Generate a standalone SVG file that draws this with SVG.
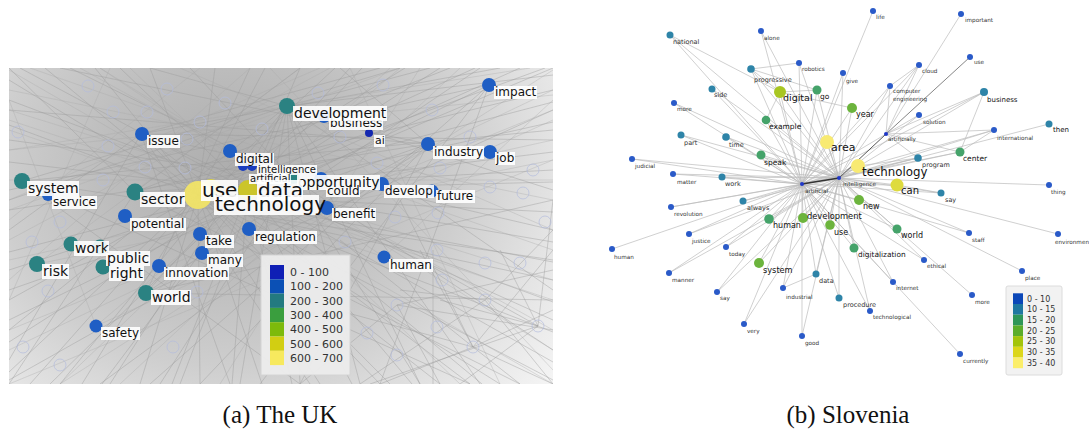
<svg xmlns="http://www.w3.org/2000/svg" width="1089" height="431" viewBox="0 0 1089 431">
<style>
.lbl{font-family:"DejaVu Sans","Liberation Sans",sans-serif;fill:#111}
.bg{fill:#fff;fill-opacity:0.9}
.web{fill:none;stroke:#999;stroke-width:0.6;stroke-opacity:0.7}
.web2{fill:none;stroke:#a8a8a8;stroke-width:0.5;stroke-opacity:0.7}
.hol{fill:none;stroke:#b3bbdd;stroke-width:0.7}
.nb{fill:#1f5ec4}
.nt{fill:#2b8282}
.e{fill:none;stroke:#bcbcbc;stroke-width:0.7}
.rb{fill:#2a5ac8}
.rt{fill:#2e84a8}
.rg{fill:#45a36a}
.rg2{fill:#6cb43d}
.s{font-family:"DejaVu Sans","Liberation Sans",sans-serif;fill:#333;font-size:5.7px}
.st{font-family:"DejaVu Sans","Liberation Sans",sans-serif;fill:#333;font-size:6.5px}
.leg{font-family:"DejaVu Sans","Liberation Sans",sans-serif;fill:#333}
.cap{font-family:"Liberation Serif","Times New Roman",serif;font-size:25px;fill:#111}
</style>
<defs>
<clipPath id="ukclip"><rect x="9" y="68" width="544" height="316"/></clipPath>
<radialGradient id="ukg" gradientUnits="userSpaceOnUse" cx="230" cy="170" r="420" gradientTransform="translate(230 170) scale(1 0.85) translate(-230 -170)">
<stop offset="0" stop-color="#adadad"/>
<stop offset="0.3" stop-color="#bdbdbd"/>
<stop offset="0.55" stop-color="#cecece"/>
<stop offset="0.8" stop-color="#e6e6e6"/>
<stop offset="1" stop-color="#f7f7f7"/>
</radialGradient>
</defs>
<rect width="1089" height="431" fill="#fff"/>

<!-- ===== Panel (a) The UK ===== -->
<g id="uk-panel">
<rect x="9" y="68" width="544" height="316" fill="url(#ukg)"/>
<g id="uk-edges" clip-path="url(#ukclip)">
<path class="web" d="M198 195L9 80M198 195L9 125M198 195L9 300M198 195L9 372M198 195L45 68M198 195L95 68M198 195L150 68M198 195L215 68M198 195L265 68M198 195L335 68M198 195L405 68M198 195L475 68M198 195L545 68M198 195L553 102M198 195L553 152M198 195L553 212M198 195L553 262M198 195L553 332M198 195L553 380M198 195L500 384M198 195L440 384M198 195L380 384M198 195L320 384M198 195L262 384M198 195L200 384M198 195L140 384M198 195L82 384M198 195L30 384"/>
<path class="web" d="M248 190L20 68M248 190L120 68M248 190L300 68M248 190L362 68M248 190L440 68M248 190L520 68M248 190L553 122M248 190L553 182M248 190L553 242M248 190L553 302M248 190L553 362M248 190L482 384M248 190L412 384M248 190L352 384M248 190L292 384M248 190L232 384M248 190L172 384M248 190L102 384M248 190L50 384M248 190L9 342M248 190L9 252M248 190L9 162M248 190L9 100"/>
<path class="web" d="M287 106L9 200M287 106L9 330M287 106L60 384M287 106L180 384M287 106L300 384M287 106L420 384M287 106L553 290M287 106L553 190M287 106L553 75M287 106L150 68M287 106L430 68M287 106L110 384M287 106L240 384M287 106L360 384M287 106L480 384"/>
<path class="web" d="M141 134L553 140M141 134L553 230M141 134L553 320M141 134L470 384M141 134L390 384M141 134L310 384M141 134L230 384M141 134L9 230M141 134L9 360M141 134L380 68M141 134L500 68"/>
<path class="web" d="M135 192L553 90M135 192L553 170M135 192L553 280M135 192L520 384M135 192L9 68M135 192L300 68M135 192L450 68M135 192L9 384"/>
<path class="web" d="M428 144L9 110M428 144L9 210M428 144L9 290M428 144L9 380M428 144L100 384M428 144L60 68M428 144L200 384M428 144L300 384M428 144L340 68"/>
<path class="web" d="M292 178L9 140M292 178L9 270M292 178L70 68M292 178L190 68M292 178L553 68M292 178L553 350M292 178L420 384M292 178L160 384"/>
<path class="web" d="M146 293L553 110M146 293L553 200M146 293L480 68M146 293L350 68M146 293L250 68M146 293L553 300M22 181L553 130M22 181L553 260M22 181L400 68M22 181L470 384M22 181L300 384M489 85L9 190M489 85L9 320M489 85L150 384M489 85L260 384M489 85L380 384"/>
<path class="web" d="M473 347L340 240M473 347L380 384M473 347L553 250M473 347L553 384M473 347L300 300M473 347L420 250M473 347L553 310M473 347L400 200M473 347L520 384M538 326L420 260M538 326L460 384M538 326L553 200M538 326L440 300M538 326L370 384M538 326L500 250M485 300L553 230M485 300L360 384M485 300L553 384M485 300L400 290M433 250L433 384M397 305L553 330M397 305L553 270M397 305L440 384M397 305L300 384"/>
<path class="web2" d="M9 90L553 200M9 150L553 95M9 210L400 68M9 260L553 140M30 68L553 250M80 68L553 330M130 68L460 384M9 180L553 180M9 330L553 110M9 240L330 68M60 384L553 70M9 120L553 300M180 68L553 230M250 68L9 280M320 68L9 200M390 68L60 384M460 68L120 384M530 68L9 150M553 160L9 384M553 280L9 110M553 350L100 68M553 90L9 350M420 68L220 384M350 68L500 384M270 68L553 370M9 70L553 384M200 68L9 220M110 68L9 300M96 326L553 120M96 326L400 68M96 326L9 100M37 264L553 160M37 264L300 68M384 257L9 130M384 257L100 68M384 257L553 100"/>
</g>
<g id="uk-hollow" clip-path="url(#ukclip)">
<circle class="hol" cx="88" cy="86" r="6"/><circle class="hol" cx="167" cy="89" r="6"/><circle class="hol" cx="113" cy="112" r="6"/><circle class="hol" cx="147" cy="112" r="6"/><circle class="hol" cx="200" cy="122" r="6"/><circle class="hol" cx="225" cy="103" r="6"/><circle class="hol" cx="262" cy="129" r="6"/><circle class="hol" cx="187" cy="139" r="6"/><circle class="hol" cx="108" cy="146" r="6"/><circle class="hol" cx="145" cy="167" r="6"/><circle class="hol" cx="185" cy="168" r="6"/><circle class="hol" cx="103" cy="180" r="6"/><circle class="hol" cx="18" cy="132" r="6"/><circle class="hol" cx="60" cy="222" r="6"/>
<circle class="hol" cx="383" cy="85" r="6"/><circle class="hol" cx="318" cy="93" r="6"/><circle class="hol" cx="432" cy="110" r="6"/><circle class="hol" cx="340" cy="137" r="6"/><circle class="hol" cx="470" cy="137" r="6"/><circle class="hol" cx="377" cy="163" r="6"/><circle class="hol" cx="440" cy="168" r="6"/><circle class="hol" cx="533" cy="170" r="6"/><circle class="hol" cx="490" cy="187" r="6"/><circle class="hol" cx="523" cy="193" r="6"/><circle class="hol" cx="438" cy="213" r="6"/><circle class="hol" cx="545" cy="222" r="6"/><circle class="hol" cx="395" cy="217" r="6"/>
<circle class="hol" cx="345" cy="242" r="6"/><circle class="hol" cx="437" cy="250" r="6"/><circle class="hol" cx="442" cy="280" r="6"/><circle class="hol" cx="485" cy="263" r="6"/><circle class="hol" cx="520" cy="263" r="6"/><circle class="hol" cx="397" cy="305" r="6"/><circle class="hol" cx="485" cy="300" r="6"/><circle class="hol" cx="367" cy="333" r="6"/><circle class="hol" cx="538" cy="326" r="6"/><circle class="hol" cx="473" cy="347" r="6"/><circle class="hol" cx="397" cy="355" r="6"/><circle class="hol" cx="437" cy="327" r="6"/>
<circle class="hol" cx="32" cy="242" r="6"/><circle class="hol" cx="48" cy="291" r="6"/><circle class="hol" cx="197" cy="292" r="6"/><circle class="hol" cx="173" cy="347" r="6"/><circle class="hol" cx="23" cy="347" r="6"/><circle class="hol" cx="60" cy="365" r="6"/>
</g>
<g id="uk-nodes">
<g id="uk-issue"><circle class="nb" cx="142" cy="134" r="7"/></g>
<g id="uk-digital"><circle class="nb" cx="230" cy="151" r="7"/></g>
<g id="uk-artificial"><circle fill="#1a3cbf" cx="243" cy="166" r="5"/></g>
<g id="uk-intelligence"><circle fill="#1a3cbf" cx="252" cy="166" r="5"/></g>
<g id="uk-service"><circle class="nb" cx="48" cy="195" r="6"/></g>
<g id="uk-potential"><circle class="nb" cx="125" cy="216" r="7"/></g>
<g id="uk-take"><circle class="nb" cx="200" cy="234" r="7"/></g>
<g id="uk-many"><circle class="nb" cx="202" cy="253" r="7"/></g>
<g id="uk-regulation"><circle class="nb" cx="249" cy="229" r="7"/></g>
<g id="uk-innovation"><circle class="nb" cx="159" cy="266" r="7"/></g>
<g id="uk-safety"><circle class="nb" cx="96" cy="326" r="6.5"/></g>
<g id="uk-human"><circle class="nb" cx="384" cy="257" r="6.5"/></g>
<g id="uk-benefit"><circle class="nb" cx="327" cy="208" r="7"/></g>
<g id="uk-develop"><circle class="nb" cx="382" cy="184" r="7"/></g>
<g id="uk-future"><circle class="nb" cx="432" cy="191" r="6.5"/></g>
<g id="uk-industry"><circle class="nb" cx="428" cy="144" r="7"/></g>
<g id="uk-job"><circle class="nb" cx="490" cy="152" r="7"/></g>
<g id="uk-impact"><circle class="nb" cx="489" cy="85" r="7"/></g>
<g id="uk-could"><circle class="nb" cx="321" cy="179" r="7"/></g>
<g id="uk-business"><circle class="nb" cx="324" cy="117" r="6"/></g>
<g id="uk-ai"><circle fill="#1428b0" cx="369" cy="133" r="4"/></g>
<g id="uk-opportunity"><circle class="nt" cx="293" cy="178" r="6"/></g>
<g id="uk-development"><circle class="nt" cx="287" cy="106" r="8"/></g>
<g id="uk-system"><circle class="nt" cx="22" cy="181" r="8"/></g>
<g id="uk-sector"><circle class="nt" cx="135" cy="192" r="8.5"/></g>
<g id="uk-work"><circle class="nt" cx="71" cy="244" r="7.5"/></g>
<g id="uk-public"><circle class="nt" cx="100" cy="247" r="7.5"/></g>
<g id="uk-right"><circle class="nt" cx="103" cy="267" r="7.5"/></g>
<g id="uk-risk"><circle class="nt" cx="37" cy="264" r="8"/></g>
<g id="uk-world"><circle class="nt" cx="146" cy="293" r="8"/></g>
<g id="uk-technology"><circle fill="#dcd242" cx="211" cy="189" r="10"/></g>
<g id="uk-use"><circle fill="#f3e565" fill-opacity="0.92" cx="198" cy="195" r="14"/></g>
<g id="uk-data"><circle fill="#cbc52a" cx="248" cy="190" r="10"/></g>
</g>
<g id="uk-labels">
<rect class="bg" x="147" y="135" width="33" height="13"/><text class="lbl" x="148" y="145" font-size="12">issue</text>
<rect class="bg" x="235" y="153" width="39" height="13"/><text class="lbl" x="236" y="163" font-size="12">digital</text>
<rect class="bg" x="52" y="196" width="45" height="13"/><text class="lbl" x="53" y="206" font-size="12">service</text>
<rect class="bg" x="130" y="218" width="56" height="13"/><text class="lbl" x="131" y="228" font-size="12">potential</text>
<rect class="bg" x="205" y="235" width="29" height="13"/><text class="lbl" x="206" y="245" font-size="12">take</text>
<rect class="bg" x="207" y="254" width="36" height="13"/><text class="lbl" x="208" y="264" font-size="12">many</text>
<rect class="bg" x="254" y="231" width="63" height="13"/><text class="lbl" x="255" y="241" font-size="12">regulation</text>
<rect class="bg" x="164" y="267" width="65" height="13"/><text class="lbl" x="165" y="277" font-size="12">innovation</text>
<rect class="bg" x="101" y="327" width="39" height="13"/><text class="lbl" x="102" y="337" font-size="12">safety</text>
<rect class="bg" x="389" y="259" width="44" height="13"/><text class="lbl" x="390" y="269" font-size="12">human</text>
<rect class="bg" x="332" y="208" width="44" height="13"/><text class="lbl" x="333" y="218" font-size="12">benefit</text>
<rect class="bg" x="384" y="185" width="50" height="13"/><text class="lbl" x="385" y="195" font-size="12">develop</text>
<rect class="bg" x="436" y="190" width="39" height="13"/><text class="lbl" x="437" y="200" font-size="12">future</text>
<rect class="bg" x="433" y="146" width="51" height="13"/><text class="lbl" x="434" y="156" font-size="12">industry</text>
<rect class="bg" x="495" y="152" width="20" height="13"/><text class="lbl" x="496" y="162" font-size="12">job</text>
<rect class="bg" x="494" y="86" width="43" height="13"/><text class="lbl" x="495" y="96" font-size="12">impact</text>
<rect class="bg" x="329" y="117" width="54" height="13"/><text class="lbl" x="330" y="127" font-size="12">business</text>
<rect class="bg" x="374" y="135" width="11" height="12"/><text class="lbl" x="375" y="144" font-size="11">ai</text>
<rect class="bg" x="257" y="165" width="60" height="10"/><text class="lbl" x="258" y="173" font-size="10">intelligence</text>
<rect class="bg" x="249" y="174" width="42" height="10"/><text class="lbl" x="250" y="182" font-size="10">artificial</text>
<rect class="bg" x="297" y="175" width="83" height="15"/><text class="lbl" x="298" y="187" font-size="14">opportunity</text>
<rect class="bg" x="326" y="189" width="34" height="8"/><text class="lbl" x="327" y="195" font-size="12">could</text>
<rect class="bg" x="293" y="106" width="94" height="15"/><text class="lbl" x="294" y="118" font-size="14">development</text>
<rect class="bg" x="27" y="181" width="52" height="15"/><text class="lbl" x="28" y="193" font-size="14">system</text>
<rect class="bg" x="140" y="192" width="45" height="15"/><text class="lbl" x="141" y="204" font-size="14">sector</text>
<rect class="bg" x="74" y="241" width="35" height="15"/><text class="lbl" x="75" y="253" font-size="14">work</text>
<rect class="bg" x="106" y="251" width="44" height="15"/><text class="lbl" x="107" y="263" font-size="14">public</text>
<rect class="bg" x="109" y="266" width="35" height="15"/><text class="lbl" x="110" y="278" font-size="14">right</text>
<rect class="bg" x="42" y="264" width="27" height="15"/><text class="lbl" x="43" y="276" font-size="14">risk</text>
<rect class="bg" x="151" y="290" width="40" height="15"/><text class="lbl" x="152" y="302" font-size="14">world</text>
<rect class="bg" x="201" y="180" width="37" height="21"/><text class="lbl" x="202" y="197" font-size="20">use</text>
<rect class="bg" x="257" y="180" width="46" height="21"/><text class="lbl" x="258" y="197" font-size="20">data</text>
<rect class="bg" x="214" y="195" width="105" height="20"/><text class="lbl" x="215" y="211" font-size="20">technology</text>
</g>
<g id="uk-legend">
<rect x="261" y="255" width="89" height="120" fill="#ececec" fill-opacity="0.95" stroke="#d4d4d4" stroke-width="1"/>
<rect x="270" y="265" width="14" height="14.3" fill="#0f1fb5"/>
<rect x="270" y="279.3" width="14" height="14.3" fill="#0b50b5"/>
<rect x="270" y="293.6" width="14" height="14.3" fill="#237a80"/>
<rect x="270" y="307.9" width="14" height="14.3" fill="#3a9e3e"/>
<rect x="270" y="322.2" width="14" height="14.3" fill="#7dba0b"/>
<rect x="270" y="336.5" width="14" height="14.3" fill="#d2ce12"/>
<rect x="270" y="350.8" width="14" height="14.3" fill="#f7e95e"/>
<text class="leg" font-size="11" x="290" y="276">0 - 100</text>
<text class="leg" font-size="11" x="290" y="290.3">100 - 200</text>
<text class="leg" font-size="11" x="290" y="304.6">200 - 300</text>
<text class="leg" font-size="11" x="290" y="318.9">300 - 400</text>
<text class="leg" font-size="11" x="290" y="333.2">400 - 500</text>
<text class="leg" font-size="11" x="290" y="347.5">500 - 600</text>
<text class="leg" font-size="11" x="290" y="361.8">600 - 700</text>
</g>
</g>
<text class="cap" x="280" y="423" text-anchor="middle">(a) The UK</text>

<!-- ===== Panel (b) Slovenia ===== -->
<g id="si-edges">
<path class="e" d="M670 35L802 184M761 31L802 184M799 63L802 184M751 69L802 184M843 73L802 184M780 92L802 184M817 90L802 184M712 89L802 184M674 103L802 184M766 120L802 184M852 108L802 184M827 142L802 184M681 135L802 184M726 137L802 184M761 155L802 184M632 159L802 184M673 174L802 184M722 177L802 184M858 166L802 184M897 185L802 184M918 158L802 184M859 200L802 184M769 219L802 184M803 218L802 184M830 225L802 184M897 229L802 184M854 248L802 184M873 11L802 184M919 65L802 184M890 86L802 184M984 92L802 184M994 130L802 184M960 152L802 184M941 193L802 184M743 201L802 184M671 207L802 184M689 234L802 184M612 249L802 184M726 247L802 184M759 263L802 184M669 273L802 184M816 274L802 184M783 288L802 184M717 292L802 184M839 298L802 184M744 324L802 184M802 336L802 184M969 233L802 184M924 260L802 184M893 282L802 184M870 311L802 184M960 354L802 184"/>
<path class="e" d="M670 35L839 178M761 31L839 178M799 63L839 178M751 69L839 178M843 73L839 178M780 92L839 178M817 90L839 178M712 89L839 178M674 103L839 178M766 120L839 178M852 108L839 178M827 142L839 178M681 135L839 178M726 137L839 178M761 155L839 178M632 159L839 178M673 174L839 178M722 177L839 178M858 166L839 178M897 185L839 178M918 158L839 178M859 200L839 178M769 219L839 178M803 218L839 178M830 225L839 178M897 229L839 178M854 248L839 178M919 65L839 178M890 86L839 178M984 92L839 178M919 115L839 178M994 130L839 178M1049 124L839 178M960 152L839 178M1049 185L839 178M941 193L839 178M743 201L839 178M671 207L839 178M689 234L839 178M726 247L839 178M759 263L839 178M669 273L839 178M816 274L839 178M783 288L839 178M717 292L839 178M839 298L839 178M744 324L839 178M802 336L839 178M969 233L839 178M1058 234L839 178M924 260L839 178M1022 271L839 178M893 282L839 178M972 295L839 178M870 311L839 178"/>
<path class="e" d="M961 14L886 134M919 65L886 134M890 86L886 134M984 92L886 134M919 115L886 134M994 130L886 134M960 152L886 134M918 158L886 134M886 134L802 184"/>
<path class="e" d="M799 63L751 69M751 69L780 92M751 69L817 90M780 92L817 90M780 92L852 108M780 92L766 120M919 65L890 86M994 130L960 152M984 92L960 152M897 185L941 193M816 274L783 288M858 166L918 158M670 35L780 92"/>
<path d="M970 57L886 134" fill="none" stroke="#777" stroke-width="0.9"/>
<path d="M839 178L886 134" fill="none" stroke="#555" stroke-width="1"/>
<path d="M802 184L839 178" fill="none" stroke="#333" stroke-width="1.5"/>
</g>
<g id="si-nodes">
<g id="si-national"><circle class="rt" cx="670" cy="35" r="3.5"/><text class="st" x="673" y="44">national</text></g>
<g id="si-alone"><circle class="rb" cx="761" cy="31" r="3"/><text class="s" x="764" y="40">alone</text></g>
<g id="si-robotics"><circle class="rb" cx="799" cy="63" r="3"/><text class="s" x="802" y="71">robotics</text></g>
<g id="si-progressive"><circle class="rt" cx="751" cy="69" r="3.8"/><text class="st" x="754" y="82">progressive</text></g>
<g id="si-give"><circle class="rb" cx="843" cy="73" r="3"/><text class="s" x="846" y="83">give</text></g>
<g id="si-digital"><circle fill="#a8c622" cx="780" cy="92" r="6"/><text class="lbl" x="783" y="101" font-size="9.5">digital</text></g>
<g id="si-go"><circle class="rg" cx="817" cy="90" r="4.5"/><text class="lbl" x="820" y="99" font-size="7.5">go</text></g>
<g id="si-side"><circle class="rt" cx="712" cy="89" r="3.5"/><text class="st" x="714" y="97">side</text></g>
<g id="si-more"><circle class="rb" cx="674" cy="103" r="3"/><text class="s" x="677" y="111">more</text></g>
<g id="si-example"><circle class="rg" cx="766" cy="120" r="4.3"/><text class="lbl" x="769" y="129" font-size="7.5">example</text></g>
<g id="si-year"><circle class="rg2" cx="852" cy="108" r="5"/><text class="lbl" x="856" y="117" font-size="8">year</text></g>
<g id="si-part"><circle class="rt" cx="681" cy="135" r="3.5"/><text class="st" x="684" y="145">part</text></g>
<g id="si-time"><circle class="rt" cx="726" cy="137" r="3.8"/><text class="st" x="729" y="147">time</text></g>
<g id="si-speak"><circle class="rg" cx="761" cy="155" r="4.5"/><text class="lbl" x="764" y="165" font-size="7.5">speak</text></g>
<g id="si-judicial"><circle class="rb" cx="632" cy="159" r="3"/><text class="s" x="635" y="168">judicial</text></g>
<g id="si-matter"><circle class="rb" cx="673" cy="174" r="3"/><text class="s" x="677" y="184">matter</text></g>
<g id="si-work"><circle class="rt" cx="722" cy="177" r="3.5"/><text class="st" x="725" y="186">work</text></g>
<g id="si-artificial"><circle fill="#2038c8" cx="802" cy="184" r="2"/><text class="s" x="805" y="193" font-size="5.5">artificial</text></g>
<g id="si-intelligence"><circle fill="#2038c8" cx="839" cy="178" r="2"/><text class="s" x="843" y="186" font-size="5.5">intelligence</text></g>
<g id="si-artificially"><circle fill="#2038c8" cx="886" cy="134" r="2"/><text class="s" x="888" y="141" font-size="5.6">artificially</text></g>
<g id="si-area"><circle fill="#f8ea72" cx="827" cy="142" r="7"/><text class="lbl" x="831" y="151" font-size="11">area</text></g>
<g id="si-technology"><circle fill="#f8ea72" cx="858" cy="166" r="7"/><text class="lbl" x="862" y="176" font-size="11.8">technology</text></g>
<g id="si-can"><circle fill="#dedb3e" cx="897" cy="185" r="6.5"/><text class="lbl" x="901" y="194" font-size="10">can</text></g>
<g id="si-program"><circle class="rt" cx="918" cy="158" r="3.8"/><text class="st" x="922" y="167">program</text></g>
<g id="si-new"><circle class="rg2" cx="859" cy="200" r="5"/><text class="lbl" x="863" y="209" font-size="8">new</text></g>
<g id="si-human-g"><circle class="rg" cx="769" cy="219" r="4.8"/><text class="lbl" x="773" y="228" font-size="8">human</text></g>
<g id="si-development"><circle class="rg2" cx="803" cy="218" r="5"/><text class="lbl" x="807" y="219" font-size="8.3">development</text></g>
<g id="si-use"><circle class="rg2" cx="830" cy="225" r="4.8"/><text class="lbl" x="834" y="235" font-size="8">use</text></g>
<g id="si-world"><circle class="rg" cx="897" cy="229" r="4.5"/><text class="lbl" x="901" y="238" font-size="8">world</text></g>
<g id="si-digitalization"><circle class="rg" cx="854" cy="248" r="4.5"/><text class="lbl" x="858" y="257" font-size="7.4">digitalization</text></g>
<g id="si-life"><circle class="rb" cx="873" cy="11" r="3"/><text class="s" x="876" y="19">life</text></g>
<g id="si-important"><circle class="rb" cx="961" cy="14" r="3"/><text class="s" x="965" y="22">important</text></g>
<g id="si-use-top"><circle class="rb" cx="970" cy="57" r="3"/><text class="s" x="974" y="64">use</text></g>
<g id="si-cloud"><circle class="rb" cx="919" cy="65" r="3"/><text class="s" x="922" y="73">cloud</text></g>
<g id="si-computer-engineering"><circle class="rb" cx="890" cy="86" r="3"/><text class="s" x="893" y="93">computer</text><text class="s" x="893" y="101">engineering</text></g>
<g id="si-business"><circle class="rt" cx="984" cy="92" r="4"/><text class="lbl" x="987" y="102" font-size="7">business</text></g>
<g id="si-solution"><circle class="rb" cx="919" cy="115" r="3"/><text class="s" x="923" y="124">solution</text></g>
<g id="si-international"><circle class="rb" cx="994" cy="130" r="3"/><text class="s" x="997" y="140">international</text></g>
<g id="si-then"><circle class="rt" cx="1049" cy="124" r="3.5"/><text class="lbl" x="1053" y="132" font-size="7">then</text></g>
<g id="si-center"><circle class="rg" cx="960" cy="152" r="4.5"/><text class="lbl" x="963" y="161" font-size="7.5">center</text></g>
<g id="si-thing"><circle class="rb" cx="1049" cy="185" r="3"/><text class="s" x="1051" y="194">thing</text></g>
<g id="si-say"><circle class="rt" cx="941" cy="193" r="3.5"/><text class="st" x="945" y="202">say</text></g>
<g id="si-always"><circle class="rt" cx="743" cy="201" r="3.5"/><text class="st" x="747" y="210">always</text></g>
<g id="si-revolution"><circle class="rb" cx="671" cy="207" r="3"/><text class="s" x="674" y="216">revolution</text></g>
<g id="si-justice"><circle class="rb" cx="689" cy="234" r="3"/><text class="s" x="692" y="243">justice</text></g>
<g id="si-human-b"><circle class="rb" cx="612" cy="249" r="3"/><text class="s" x="614" y="259">human</text></g>
<g id="si-today"><circle class="rb" cx="726" cy="247" r="3"/><text class="s" x="729" y="256">today</text></g>
<g id="si-system"><circle class="rg2" cx="759" cy="263" r="5"/><text class="lbl" x="763" y="273" font-size="8.2">system</text></g>
<g id="si-manner"><circle class="rb" cx="669" cy="273" r="3"/><text class="s" x="672" y="282">manner</text></g>
<g id="si-data"><circle class="rt" cx="816" cy="274" r="3.5"/><text class="st" x="819" y="283">data</text></g>
<g id="si-industrial"><circle class="rb" cx="783" cy="288" r="3"/><text class="s" x="786" y="299">industrial</text></g>
<g id="si-say-2"><circle class="rb" cx="717" cy="292" r="3"/><text class="s" x="720" y="300">say</text></g>
<g id="si-procedure"><circle class="rt" cx="839" cy="298" r="3.5"/><text class="st" x="843" y="307">procedure</text></g>
<g id="si-very"><circle class="rb" cx="744" cy="324" r="3"/><text class="s" x="747" y="333">very</text></g>
<g id="si-good"><circle class="rb" cx="802" cy="336" r="3"/><text class="s" x="805" y="345">good</text></g>
<g id="si-staff"><circle class="rb" cx="969" cy="233" r="3"/><text class="s" x="972" y="242">staff</text></g>
<g id="si-environment"><circle class="rb" cx="1058" cy="234" r="3"/><text class="s" x="1055" y="244">environmen</text></g>
<g id="si-ethical"><circle class="rb" cx="924" cy="260" r="3"/><text class="s" x="927" y="268">ethical</text></g>
<g id="si-place"><circle class="rb" cx="1022" cy="271" r="3"/><text class="s" x="1025" y="280">place</text></g>
<g id="si-internet"><circle class="rb" cx="893" cy="282" r="3"/><text class="s" x="896" y="290">internet</text></g>
<g id="si-more-2"><circle class="rb" cx="972" cy="295" r="3"/><text class="s" x="975" y="304">more</text></g>
<g id="si-technological"><circle class="rb" cx="870" cy="311" r="3"/><text class="s" x="873" y="319">technological</text></g>
<g id="si-currently"><circle class="rb" cx="960" cy="354" r="3"/><text class="s" x="963" y="363">currently</text></g>
</g>
<g id="si-legend">
<rect x="1006" y="286" width="56" height="89" rx="2" fill="#f2f2f2" stroke="#dcdcdc" stroke-width="1"/>
<rect x="1013" y="293.3" width="10" height="10.7" fill="#0b47b8"/>
<rect x="1013" y="304" width="10" height="10.7" fill="#1f77a0"/>
<rect x="1013" y="314.7" width="10" height="10.7" fill="#2e9657"/>
<rect x="1013" y="325.4" width="10" height="10.7" fill="#5bad2a"/>
<rect x="1013" y="336.1" width="10" height="10.7" fill="#a3c40a"/>
<rect x="1013" y="346.8" width="10" height="10.7" fill="#dcd619"/>
<rect x="1013" y="357.5" width="10" height="10.7" fill="#fbee6a"/>
<text class="leg" font-size="8" x="1027" y="301.6">0 - 10</text>
<text class="leg" font-size="8" x="1027" y="312.3">10 - 15</text>
<text class="leg" font-size="8" x="1027" y="323">15 - 20</text>
<text class="leg" font-size="8" x="1027" y="333.7">20 - 25</text>
<text class="leg" font-size="8" x="1027" y="344.4">25 - 30</text>
<text class="leg" font-size="8" x="1027" y="355.1">30 - 35</text>
<text class="leg" font-size="8" x="1027" y="365.8">35 - 40</text>
</g>
<text class="cap" x="848" y="423" text-anchor="middle">(b) Slovenia</text>
</svg>
